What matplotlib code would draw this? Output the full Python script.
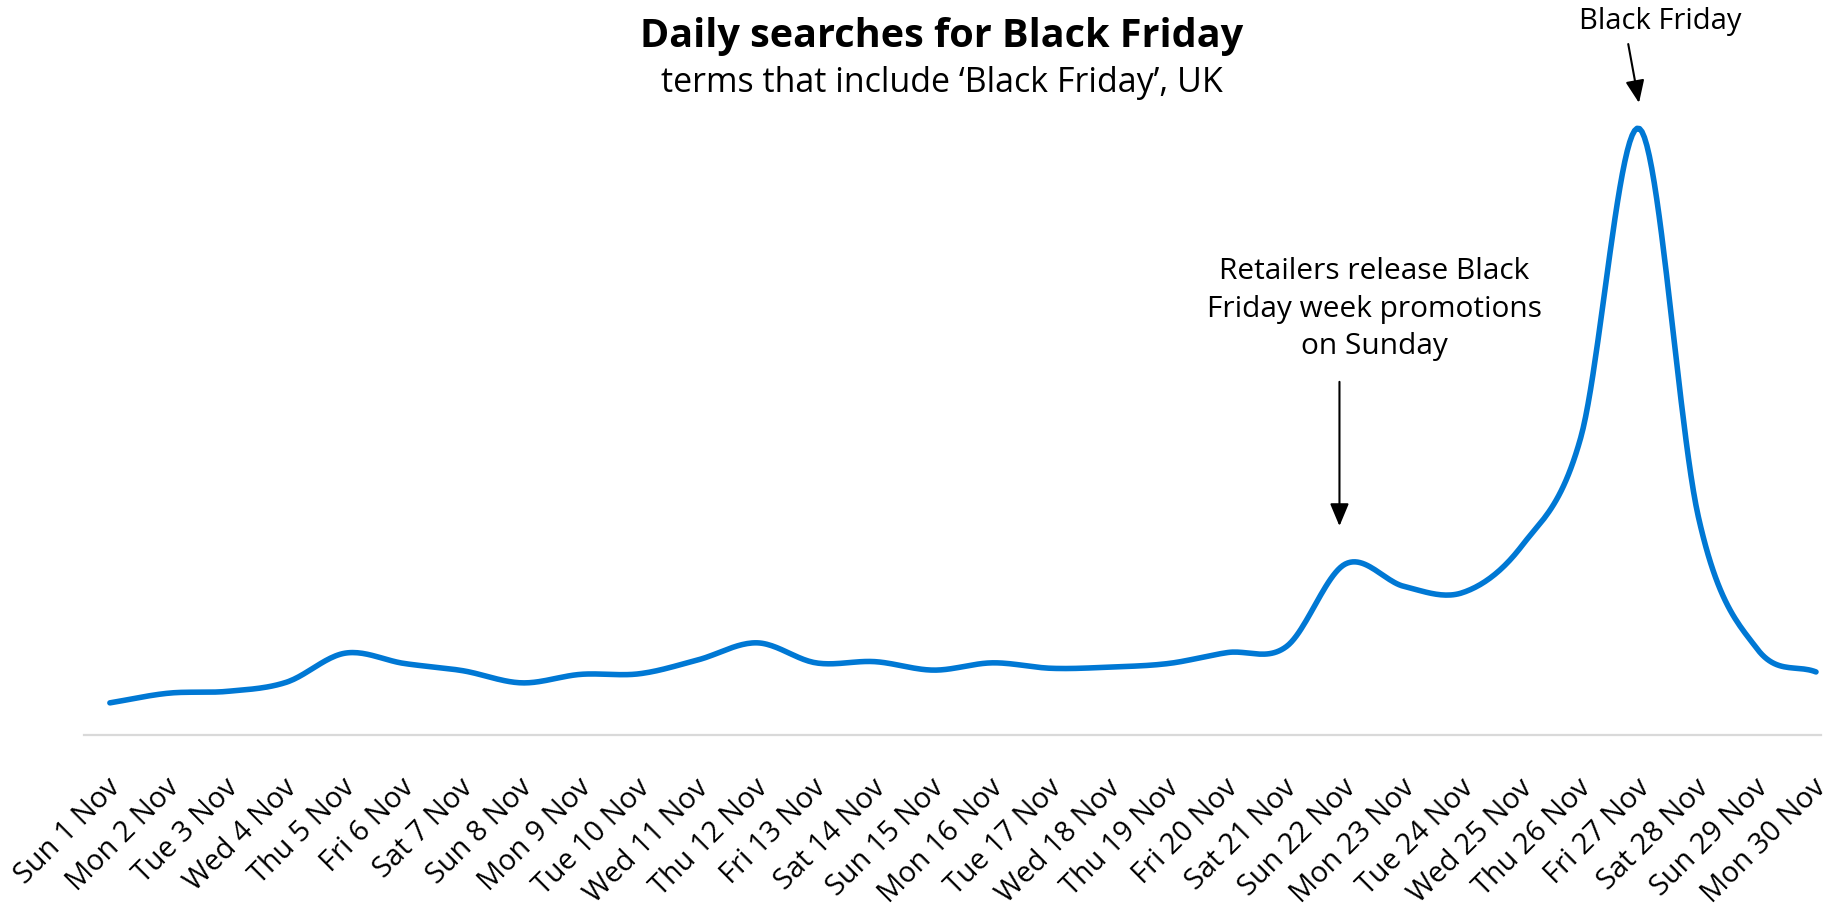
import numpy as np
import matplotlib.pyplot as plt
from matplotlib.transforms import ScaledTranslation

plt.rcParams['font.family'] = ['Open Sans', 'DejaVu Sans']

# daily search interest, peak day = 100
days = ['Sun 1 Nov', 'Mon 2 Nov', 'Tue 3 Nov', 'Wed 4 Nov', 'Thu 5 Nov', 'Fri 6 Nov',
        'Sat 7 Nov', 'Sun 8 Nov', 'Mon 9 Nov', 'Tue 10 Nov', 'Wed 11 Nov', 'Thu 12 Nov',
        'Fri 13 Nov', 'Sat 14 Nov', 'Sun 15 Nov', 'Mon 16 Nov', 'Tue 17 Nov', 'Wed 18 Nov',
        'Thu 19 Nov', 'Fri 20 Nov', 'Sat 21 Nov', 'Sun 22 Nov', 'Mon 23 Nov', 'Tue 24 Nov',
        'Wed 25 Nov', 'Thu 26 Nov', 'Fri 27 Nov', 'Sat 28 Nov', 'Sun 29 Nov', 'Mon 30 Nov']
searches = [5.3, 6.9, 7.2, 8.7, 13.5, 11.8, 10.6, 8.6, 10.0, 10.1,
            12.4, 15.2, 11.9, 12.1, 10.7, 11.9, 11.0, 11.2, 11.8, 13.6,
            14.6, 28.2, 24.5, 23.5, 31.2, 49.0, 100.0, 36.0, 14.2, 10.4]

promo_day = 21   # Sun 22 Nov
peak_day = 26    # Fri 27 Nov


def catmull_rom(y, steps=24):
    # cubic hermite through every point, tangents from neighbours
    y = np.asarray(y, dtype=float)
    n = len(y)
    m = np.empty(n)
    m[1:-1] = (y[2:] - y[:-2]) / 2
    m[0] = y[1] - y[0]
    m[-1] = y[-1] - y[-2]
    xs, ys = [], []
    for i in range(n - 1):
        t = np.linspace(0, 1, steps, endpoint=False)
        h00 = 2 * t**3 - 3 * t**2 + 1
        h10 = t**3 - 2 * t**2 + t
        h01 = -2 * t**3 + 3 * t**2
        h11 = t**3 - t**2
        xs.append(i + t)
        ys.append(h00 * y[i] + h10 * m[i] + h01 * y[i + 1] + h11 * m[i + 1])
    xs.append([n - 1])
    ys.append([y[-1]])
    return np.concatenate(xs), np.concatenate(ys)


fig = plt.figure(figsize=(18.24, 9.04), dpi=100)
ax = fig.add_axes([84 / 1824, 168 / 904, 1737 / 1824, 667 / 904])

x = np.arange(len(days))
sx, sy = catmull_rom(searches)
ax.plot(sx, sy, color='#0078d4', lw=4, solid_capstyle='round')

ax.set_xlim(-0.44, 29.085)
ax.set_ylim(0, 110)
for s in ['top', 'right', 'left']:
    ax.spines[s].set_visible(False)
ax.spines['bottom'].set_color('#d9d9d9')
ax.spines['bottom'].set_linewidth(1.6)
ax.set_yticks([])
ax.set_xticks(x)
ax.set_xticklabels(days, rotation=45, ha='right', rotation_mode='anchor', fontsize=20.8)
ax.tick_params(axis='x', length=0, pad=27)
for lab in ax.get_xticklabels():
    lab.set_transform(lab.get_transform() + ScaledTranslation(-0.04, 0, fig.dpi_scale_trans))

fig.text(942 / 1824, 1 - 36 / 904, 'Daily searches for Black Friday', ha='center', va='center',
         fontsize=28.5, fontweight='bold')
fig.text(942 / 1824, 1 - 83 / 904, 'terms that include \u2018Black Friday\u2019, UK', ha='center',
         va='center', fontsize=24.5)

arrow = dict(arrowstyle='-|>,head_length=0.55,head_width=0.23', color='black', lw=1.5,
             mutation_scale=25)

# arrow to the peak day
ax.annotate('', xy=(peak_day, searches[peak_day] + 3.8), xytext=(peak_day - 0.2, searches[peak_day] + 14.4),
            arrowprops=arrow, annotation_clip=False)
ax.text(peak_day + 0.35, searches[peak_day] + 17.8, 'Black Friday', ha='center', va='center',
        fontsize=21, clip_on=False)

# arrow to the Sunday promotions bump
ax.annotate('', xy=(promo_day - 0.1, searches[promo_day] + 5.8), xytext=(promo_day - 0.1, searches[promo_day] + 30.5),
            arrowprops=arrow)
ax.text(promo_day + 0.49, searches[promo_day] + 42.2, 'Retailers release Black\nFriday week promotions\non Sunday',
        ha='center', va='center', fontsize=21.5, linespacing=1.4)

fig.savefig('out.png', dpi=100)
